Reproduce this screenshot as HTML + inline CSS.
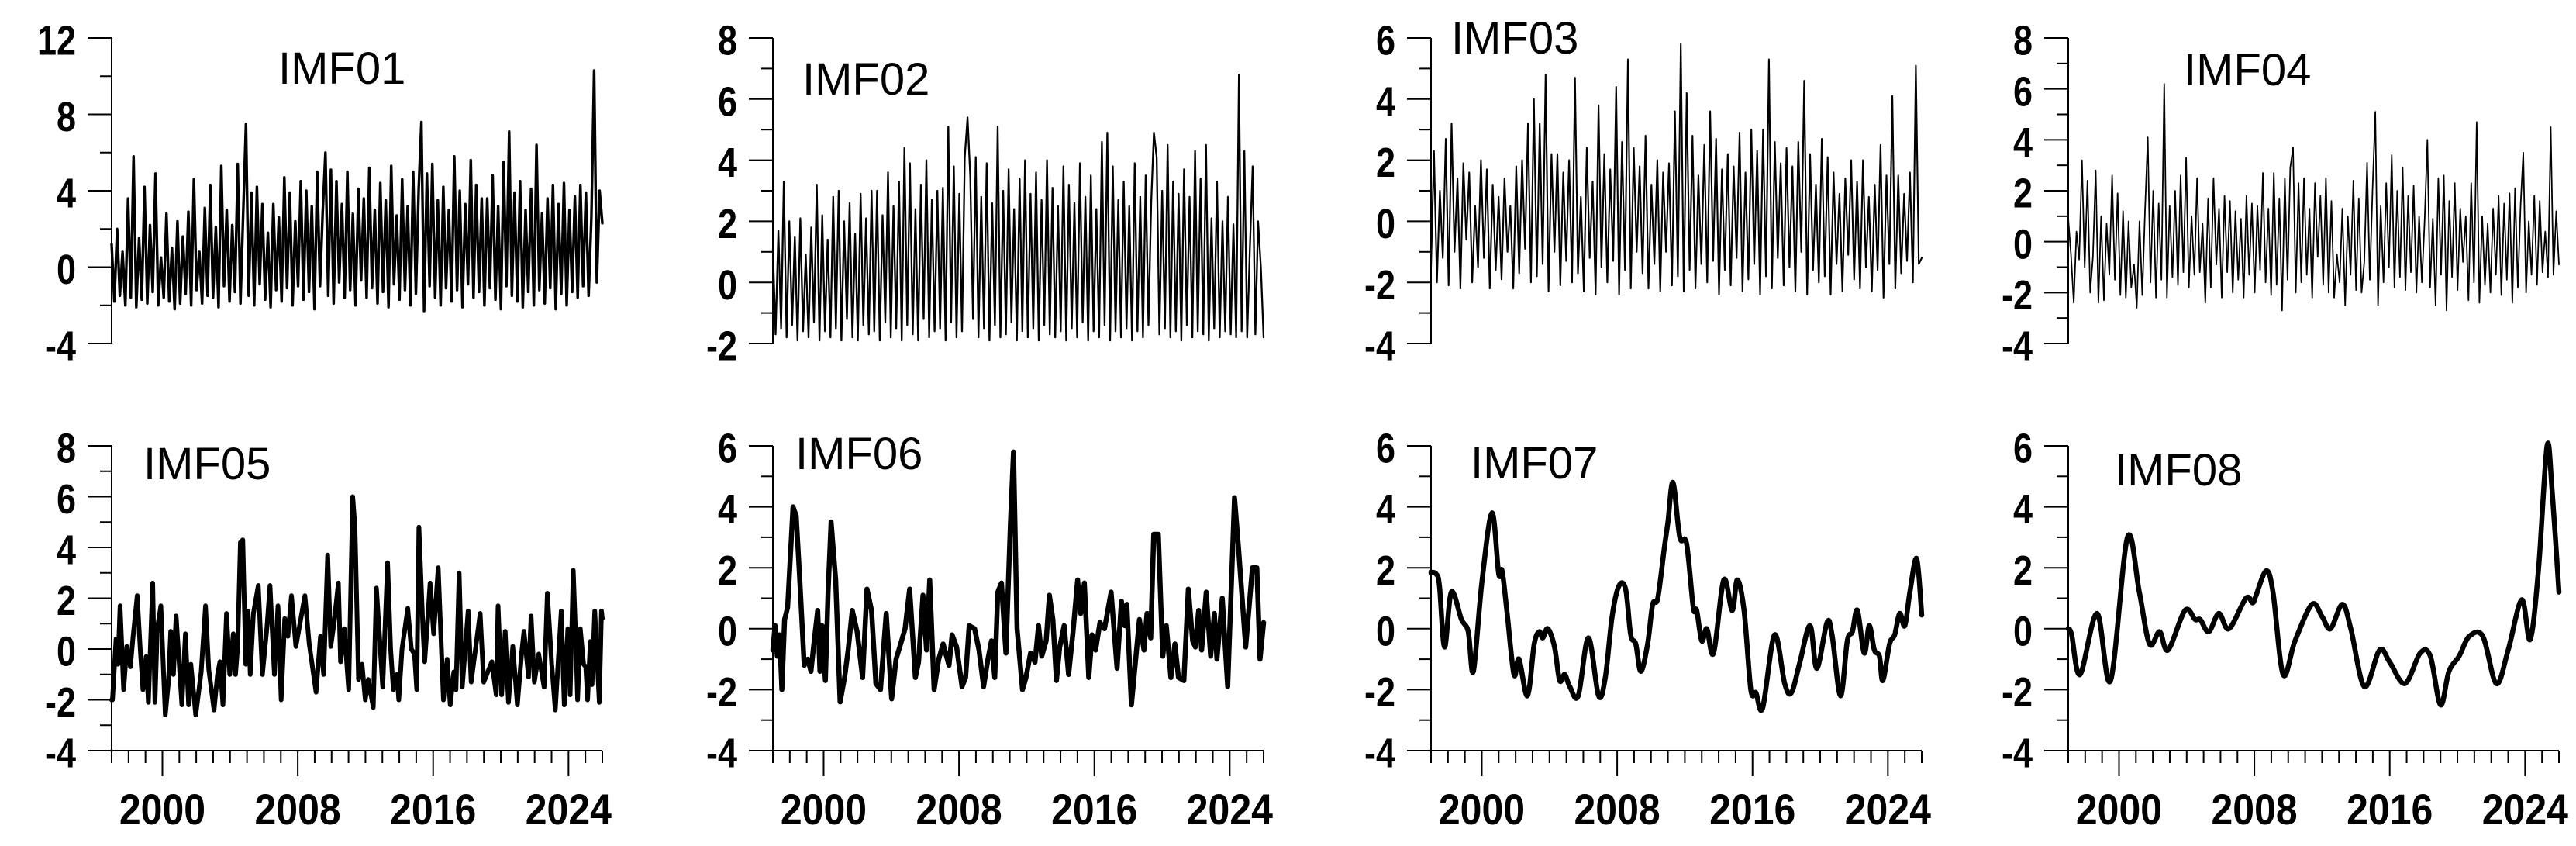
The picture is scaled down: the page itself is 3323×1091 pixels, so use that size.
<!DOCTYPE html>
<html><head><meta charset="utf-8"><style>
html,body{margin:0;padding:0;background:#fff;}
svg{display:block;}
</style></head><body>
<svg id="chart" width="3323" height="1091" xmlns="http://www.w3.org/2000/svg"></svg>
<script>
const imf01Values=[1.2,-1.8,2.0,-1.5,0.8,-2.0,3.6,-1.6,5.8,-2.1,1.5,-1.7,4.2,-1.9,2.2,-1.3,4.9,-2.0,0.5,-1.6,2.8,-1.8,1.0,-2.2,2.4,-1.9,1.6,-1.4,2.9,-2.0,4.6,-1.2,0.8,-1.9,3.1,-1.5,4.3,-1.6,2.1,-2.1,5.3,-1.0,3.0,-1.8,2.2,-1.3,5.4,-1.9,2.8,7.5,-1.5,3.9,-2.0,4.2,-0.9,3.3,-1.7,1.8,-2.1,3.3,-1.2,2.6,-1.8,4.7,-1.1,3.9,-2.0,2.4,-1.0,4.5,-1.7,4.0,-1.3,3.2,-2.2,5.0,-1.0,2.9,6.0,-1.5,5.1,-1.9,4.5,-0.8,3.3,-1.6,5.0,-1.2,2.8,-2.0,4.1,-0.7,3.6,-1.6,5.2,-1.1,3.0,-1.9,4.4,-1.3,3.5,-2.1,5.3,-0.9,2.7,-1.7,4.6,-1.2,3.2,-2.0,5.0,-1.4,4.1,7.6,-2.3,4.9,-1.0,5.4,-1.6,3.5,-2.0,4.2,-1.1,3.0,-1.8,5.8,-1.2,4.0,-2.1,3.3,-0.9,5.6,-1.6,4.3,-1.3,3.6,-2.0,3.6,-1.1,4.8,-1.7,3.2,-2.2,5.5,-1.0,7.1,-1.5,3.9,-1.8,4.5,-2.1,3.0,-1.3,4.1,-2.0,6.4,-1.2,2.8,-1.9,3.6,-1.1,4.3,-2.2,3.3,-1.4,4.4,-2.0,3.0,-1.3,3.7,-1.6,4.3,-1.0,3.9,-1.5,2.6,10.3,-0.8,4.0,2.3];
const imf02Values=[1.1,-1.7,1.7,-1.5,3.3,-1.8,2.0,-1.4,1.5,-1.9,2.1,-1.6,0.9,-1.8,1.8,-1.3,3.2,-1.9,2.2,-1.6,1.4,-1.8,2.8,-1.5,3.0,-1.9,2.0,-1.2,2.6,-1.8,1.6,-1.9,2.9,-1.4,2.1,-1.7,3.0,-1.6,3.0,-1.9,2.2,-1.3,3.6,-1.8,2.5,-1.5,3.3,-1.9,4.4,-1.4,3.9,-1.7,2.4,-1.9,3.2,-1.2,4.0,-1.8,2.7,-1.6,3.0,-1.5,3.1,-1.9,5.1,-1.3,3.8,-1.8,2.9,-1.6,4.1,5.4,3.5,-1.2,4.1,-1.8,2.8,-1.5,3.9,-1.9,2.6,-1.4,5.1,-1.8,3.0,-1.7,3.7,-1.3,2.4,-1.9,3.4,-1.6,4.0,-1.8,2.9,-1.5,3.6,-1.9,2.7,-1.4,4.0,-1.7,3.1,-1.8,2.5,-1.6,3.8,-1.9,3.2,-1.5,2.6,-1.8,3.9,-1.3,2.8,-1.9,3.5,-1.6,2.4,-1.8,4.6,-1.4,4.9,-1.9,3.8,-1.6,2.7,-1.8,3.3,-1.5,2.5,-1.9,3.9,-1.6,2.8,-1.8,3.5,-1.4,2.6,4.9,4.1,-1.7,3.0,-1.5,4.5,-1.8,3.3,-1.6,2.9,-1.9,3.7,-1.4,2.8,-1.8,4.3,-1.6,3.4,-1.7,4.5,-1.9,2.1,-1.5,3.3,-1.8,2.0,-1.6,2.8,-1.7,1.9,-1.8,6.8,-1.6,4.3,-1.8,1.1,3.8,-1.7,2.0,0.5,-1.8];
const imf03Values=[-1.5,2.3,-2.0,1.0,-1.2,2.7,-2.1,3.2,-1.0,1.4,-2.2,1.9,-0.6,1.6,-2.0,0.5,-1.5,2.0,-1.2,1.7,-2.2,1.2,-1.6,0.8,-1.9,1.4,-1.0,0.5,-2.2,1.8,-1.7,2.0,-0.9,3.2,-2.0,4.0,-1.8,3.2,-1.4,4.8,-2.3,2.2,-1.0,2.2,-2.1,1.6,-1.3,2.0,-2.0,4.7,-1.7,0.8,-2.3,2.4,-1.2,1.3,-2.4,3.8,-1.5,2.2,-2.0,1.7,-1.3,4.4,-2.4,2.6,-1.6,5.3,-2.2,2.4,-1.0,1.8,-1.7,2.8,-2.2,1.2,-1.4,2.0,-2.3,1.6,-1.0,1.9,-2.1,3.6,-1.8,5.8,-2.3,4.2,-1.6,2.8,-2.2,1.5,-1.4,2.5,-2.0,3.6,-1.3,2.7,-2.4,1.7,-1.6,2.2,-2.1,1.8,-1.2,2.9,-2.3,1.6,-1.9,3.0,-1.4,2.3,-2.4,3.0,-1.8,5.3,-2.2,2.6,-1.2,1.9,-2.1,2.4,-1.5,1.8,-2.3,2.6,-1.0,4.6,-2.4,2.2,-1.6,1.2,-2.0,2.7,-1.8,2.1,-2.4,1.6,-1.4,0.9,-2.3,1.4,-1.1,2.0,-1.9,1.3,-2.2,2.0,-1.5,0.8,-2.3,1.2,-1.6,2.5,-2.5,1.5,-1.4,4.1,-2.2,1.5,-1.7,0.9,-1.3,1.6,-2.0,5.1,-1.4,-1.2];
const imf04Values=[0.9,-0.5,-2.4,0.4,-0.7,3.2,-1.0,2.4,-2.0,-0.6,2.8,-2.4,1.0,-2.3,0.7,-1.3,2.6,-1.5,1.9,-2.1,1.2,-2.2,0.8,-1.8,-0.9,-2.6,0.8,-2.1,1.2,4.1,-1.6,2.0,-2.2,1.5,-1.5,6.2,-2.2,1.4,-1.4,2.0,-1.7,2.6,-1.2,3.3,-1.8,1.0,-1.3,2.5,-1.2,0.7,-2.4,1.7,-1.8,2.5,-0.9,1.3,-2.2,1.8,-1.2,1.6,-2.0,1.2,-1.5,0.9,-2.2,1.8,-1.3,1.5,-2.0,1.4,-1.1,2.7,-1.6,1.3,-2.1,2.7,-1.7,1.7,-2.7,2.5,-1.5,2.9,3.7,-2.0,2.3,-1.6,2.5,-1.3,1.3,-2.2,2.3,-0.6,1.8,-1.7,2.5,-2.0,1.6,-2.2,-0.5,-1.6,1.3,-2.5,1.0,-1.3,2.4,-1.9,1.7,-2.0,-0.8,3.1,-1.5,2.0,5.1,-2.5,1.4,-1.6,2.3,-1.0,3.4,-1.8,2.0,-1.4,2.9,-1.9,1.8,-1.2,2.2,-2.0,1.0,-1.6,0.8,4.0,-1.8,0.9,-2.5,2.5,-1.3,2.6,-2.7,1.6,-1.4,2.3,-1.9,1.3,-0.8,1.0,-2.3,2.3,-1.6,4.7,-2.4,1.0,-1.7,0.7,-2.0,1.3,-1.3,1.8,-2.1,1.5,-1.5,1.9,-2.4,2.1,-1.8,1.4,3.5,-2.0,0.8,-1.3,1.8,-1.7,1.6,-1.2,0.4,-1.4,4.5,-1.3,1.2,-0.9];
const imf05Years=[1997.0,1997.05,1997.26,1997.37,1997.50,1997.71,1997.90,1998.11,1998.27,1998.51,1998.69,1998.85,1999.04,1999.17,1999.43,1999.56,1999.70,1999.91,2000.17,2000.36,2000.49,2000.65,2000.81,2001.15,2001.36,2001.55,2001.68,2001.97,2002.29,2002.55,2002.74,2003.05,2003.26,2003.40,2003.58,2003.79,2003.98,2004.19,2004.32,2004.45,2004.61,2004.75,2004.93,2005.06,2005.19,2005.38,2005.67,2005.91,2006.17,2006.36,2006.62,2006.83,2007.02,2007.23,2007.42,2007.63,2007.89,2008.42,2008.68,2009.08,2009.34,2009.53,2009.77,2009.95,2010.14,2010.40,2010.53,2010.75,2011.01,2011.25,2011.38,2011.59,2011.80,2011.99,2012.17,2012.46,2012.65,2013.02,2013.31,2013.49,2013.65,2013.86,2013.97,2014.16,2014.50,2014.71,2014.90,2015.03,2015.16,2015.40,2015.50,2015.69,2015.82,2016.03,2016.30,2016.61,2016.83,2017.01,2017.22,2017.35,2017.54,2017.72,2018.07,2018.25,2018.78,2018.99,2019.47,2019.73,2019.84,2020.05,2020.26,2020.45,2020.71,2020.98,2021.24,2021.37,2021.64,2021.79,2021.98,2022.24,2022.56,2022.75,2023.01,2023.22,2023.57,2023.75,2023.96,2024.10,2024.28,2024.46,2024.54,2024.70,2024.89,2025.02,2025.13,2025.29,2025.39,2025.55,2025.82,2025.95,2026.0];
const imf05Values=[-2.0,-2.0,0.4,-0.6,1.7,-1.6,0.1,-0.7,0.5,2.1,0,-1.6,-0.3,-2.1,2.6,-2.1,0.8,1.7,-2.6,-1.3,0.7,-1.0,1.3,-2.2,0.6,-2.2,-0.6,-2.6,-0.9,1.7,-0.8,-2.4,-1.0,-0.5,-2.2,1.4,-1.0,0.6,-1.0,0.1,4.2,4.3,-0.6,1.5,-1.0,1.4,2.5,-1.0,0.8,2.5,-1.0,1.7,-2.0,1.2,0.5,2.1,0.1,2.1,0.2,-1.7,0.5,-1.0,3.7,0.1,1.0,2.6,-0.5,0.8,-1.6,6.0,4.8,-1.2,-0.6,-2.0,-1.2,-2.3,2.4,-1.5,3.4,0,-1.6,-1.0,-2.0,0.0,1.6,0,-0.2,-1.6,4.8,0.8,-0.5,1.3,2.6,0.6,3.2,-2.0,-0.4,-2.2,-0.9,-1.6,3.0,-1.5,1.5,-1.3,1.4,-1.3,-0.5,-1.8,1.7,-1.8,0.7,-2.1,0.1,-2.2,-0.1,0.7,-1.1,1.3,-1.3,-0.2,-1.5,2.2,-0.6,-2.4,1.5,-2.2,0.8,-1.8,3.1,-0.2,-2.0,0.8,-0.6,-0.7,-2.0,0.3,-1.4,1.5,-2.1,1.5,1.2];
const imf06Years=[1997.00,1997.13,1997.26,1997.40,1997.53,1997.69,1997.87,1998.19,1998.38,1998.59,1998.85,1999.07,1999.25,1999.44,1999.65,1999.78,1999.91,2000.10,2000.26,2000.44,2000.71,2000.97,2001.24,2001.45,2001.69,2001.98,2002.30,2002.56,2002.83,2003.09,2003.36,2003.70,2004.02,2004.28,2004.55,2004.81,2005.08,2005.42,2005.61,2005.87,2006.08,2006.27,2006.53,2006.80,2007.06,2007.41,2007.59,2007.86,2008.18,2008.39,2008.60,2008.92,2009.18,2009.45,2009.71,2009.92,2010.11,2010.29,2010.51,2010.77,2011.04,2011.22,2011.43,2011.75,2011.96,2012.23,2012.49,2012.70,2012.89,2013.15,2013.34,2013.55,2013.76,2013.95,2014.21,2014.48,2014.74,2015.01,2015.19,2015.41,2015.67,2015.86,2016.07,2016.33,2016.60,2016.99,2017.34,2017.60,2017.79,2017.92,2018.19,2018.66,2018.93,2019.11,2019.33,2019.51,2019.78,2020.04,2020.25,2020.52,2020.76,2020.97,2021.29,2021.55,2021.81,2021.97,2022.16,2022.34,2022.61,2022.87,2023.09,2023.24,2023.56,2023.88,2024.28,2024.54,2024.94,2025.34,2025.60,2025.79,2026.00];
const imf06Values=[-0.7,0.1,-0.9,-0.2,-2.0,0.3,0.7,4.0,3.7,1.6,-1.2,-1.0,-1.4,-0.4,0.6,-1.4,0.1,-1.7,1.2,3.5,1.6,-2.4,-1.6,-0.7,0.6,-0.1,-1.6,1.3,0.6,-1.8,-2.0,0.5,-2.3,-1.0,-0.5,0,1.3,-1.6,-1.1,1.1,-0.7,1.6,-2.0,-1.0,-0.5,-1.2,-0.2,-0.6,-1.9,-1.6,0.1,0,-0.7,-1.9,-1.0,-0.4,-1.6,1.2,1.5,-0.8,3.5,5.8,0,-2.0,-1.6,-0.8,-1.1,0.1,-0.9,-0.4,1.1,0.3,-1.7,-0.6,0.1,-1.5,-0.1,1.6,0.5,1.5,-1.6,-0.2,-0.7,0.2,0,1.2,-1.3,0.9,0.1,0.8,-2.5,0.3,-0.7,0.5,-0.3,3.1,3.1,-0.9,0.1,-1.6,-0.5,-1.6,-1.7,1.3,-0.4,-0.6,0.6,-0.7,1.2,-0.9,0.5,-1.0,1.0,-1.9,4.3,2.5,-0.6,2.0,2.0,-1.0,0.2];
const imf07Years=[1997.0,1997.3,1997.5,1997.8,1998.2,1998.8,1999.2,1999.5,2000.0,2000.6,2001.0,2001.2,2001.5,2001.9,2002.2,2002.7,2003.1,2003.4,2003.6,2003.9,2004.3,2004.6,2004.9,2005.2,2005.7,2006.3,2006.9,2007.3,2007.7,2008.1,2008.5,2008.8,2009.1,2009.4,2009.8,2010.1,2010.4,2010.8,2011.0,2011.3,2011.7,2012.1,2012.5,2012.7,2013.0,2013.3,2013.7,2014.3,2014.8,2015.1,2015.5,2015.9,2016.2,2016.6,2017.3,2017.9,2018.3,2018.8,2019.4,2019.8,2020.4,2020.7,2021.2,2021.6,2021.9,2022.2,2022.6,2022.9,2023.2,2023.5,2023.7,2024.1,2024.4,2024.7,2025.0,2025.3,2025.7,2026.0];
const imf07Values=[1.85,1.8,1.4,-0.6,1.2,0.3,-0.1,-1.4,1.5,3.8,1.8,1.9,0.5,-1.5,-1.0,-2.2,-0.5,-0.1,-0.3,0,-0.6,-1.7,-1.5,-1.9,-2.2,-0.3,-2.2,-1.6,0.4,1.4,1.3,-0.2,-0.5,-1.4,-0.5,0.8,1.0,2.7,3.5,4.8,3.0,2.8,0.7,0.6,-0.4,0,-0.8,1.6,0.6,1.6,0.6,-2.0,-2.1,-2.6,-0.2,-1.8,-2.1,-1.1,0.1,-1.3,0.2,-0.2,-2.2,-0.4,-0.1,0.6,-0.8,0.1,-0.7,-0.9,-1.7,-0.5,-0.2,0.5,0.1,1.2,2.3,0.45];
const imf08Years=[1997.0,1997.2,1997.7,1998.7,1999.5,2000.5,2001.2,2001.8,2002.4,2002.9,2003.9,2004.5,2004.8,2005.3,2005.9,2006.5,2007.5,2007.9,2008.1,2008.7,2009.1,2009.7,2010.4,2011.4,2012.0,2012.5,2013.2,2013.7,2014.5,2015.4,2016.0,2016.9,2017.8,2018.4,2019.0,2019.5,2020.1,2020.7,2021.5,2022.3,2023.0,2023.8,2024.3,2024.8,2025.3,2025.6,2026.0];
const imf08Values=[0,-0.2,-1.5,0.5,-1.7,3.0,1.2,-0.5,-0.1,-0.7,0.6,0.3,0.3,-0.1,0.5,0.0,1.0,0.85,1.1,1.9,1.2,-1.5,-0.4,0.8,0.4,0,0.8,0,-1.9,-0.7,-1.1,-1.8,-0.8,-0.9,-2.5,-1.4,-0.9,-0.25,-0.25,-1.8,-0.7,0.95,-0.35,2.0,6.0,4.5,1.2];
const panelTitles=["IMF01","IMF02","IMF03","IMF04","IMF05","IMF06","IMF07","IMF08"];
const yMins=[-4,-2,-4,-4,-4,-4,-4,-4];
const yMaxs=[12,8,6,8,8,6,6,6];
const yLabelSteps=[4,2,2,2,2,2,2,2];
const yearLabels=[2000,2008,2016,2024];
const X0=1997, X1=2026;

const svg=document.getElementById('chart');
const NS='http://www.w3.org/2000/svg';
function mk(tag,attrs,parent){const e=document.createElementNS(NS,tag);for(const k in attrs)e.setAttribute(k,attrs[k]);(parent||svg).appendChild(e);return e;}
const lefts=[144,997,1846,2668], W=633;
const rows=[[49,443],[575,968]];
const titlePos=[[359,108],[1035,122],[1872,69],[2817,110],[185,618],[1026,605],[1897,617],[2728,626]];
const evenYears=n=>Array.from({length:n},(_,i)=>X0+(X1-X0)*i/(n-1));
const series=[
 [evenYears(imf01Values.length),imf01Values,3.4],
 [evenYears(imf02Values.length),imf02Values,2.3],
 [evenYears(imf03Values.length),imf03Values,2.1],
 [evenYears(imf04Values.length),imf04Values,1.8],
 [imf05Years,imf05Values,6],
 [imf06Years,imf06Values,6.5],
 [imf07Years,imf07Values,6.5],
 [imf08Years,imf08Values,6.5]];
for(let p=0;p<8;p++){
 const L=lefts[p%4], R=L+W, [T,B]=rows[Math.floor(p/4)];
 const xs=v=>L+(v-X0)/(X1-X0)*W;
 const ys=v=>B-(v-yMins[p])/(yMaxs[p]-yMins[p])*(B-T);
 const g=mk('g',{});
 
 
 const ax=mk('line',{x1:L,y1:T,x2:L,y2:B,stroke:'#000','stroke-width':2},g);
 
 
 const half=yLabelSteps[p]/2;
 for(let v=yMins[p];v<=yMaxs[p]+1e-9;v+=half){
  const major=Math.abs((v-yMins[p])%yLabelSteps[p])<1e-9;
  const t=mk('line',{x1:L-(major?31:15),y1:ys(v),x2:L,y2:ys(v),stroke:'#000','stroke-width':2},g);
  
  
  if(major){
   const ty=ys(v);
   const tx=mk('text',{x:L-46,y:ty+18,'text-anchor':'end','font-family':'Liberation Sans, Arial, sans-serif','font-weight':'bold','font-size':45,transform:`translate(0 ${ty}) scale(1 1.2) translate(0 ${-ty})`},g);
   tx.textContent=String(v);
   
   
  }
 }
 if(p>=4){
  const xa=mk('line',{x1:L,y1:B,x2:R,y2:B,stroke:'#000','stroke-width':2},g);
  
  
  for(let yr=X0;yr<=X1;yr++){
   const major=yearLabels.includes(yr);
   const t=mk('line',{x1:xs(yr),y1:B,x2:xs(yr),y2:B+(major?33:16),stroke:'#000','stroke-width':2},g);
   
   
  }
  yearLabels.forEach(yr=>{
   const tx=mk('text',{x:xs(yr),y:1063,'text-anchor':'middle','font-family':'Liberation Sans, Arial, sans-serif','font-weight':'bold','font-size':50,transform:'translate(0 1063) scale(1 1.12) translate(0 -1063)'},g);
   tx.textContent=String(yr);
   
   
  });
 }
 const [yrs,vals,sw]=series[p];
 const pts=yrs.map((y,i)=>[xs(y),ys(vals[i])]);
 let d;
 if(p>=6){
  d='M'+pts[0][0].toFixed(1)+','+pts[0][1].toFixed(1);
  for(let i=0;i<pts.length-1;i++){
   const p0=pts[Math.max(0,i-1)],p1=pts[i],p2=pts[i+1],p3=pts[Math.min(pts.length-1,i+2)];
   const c1=[p1[0]+(p2[0]-p0[0])/6,p1[1]+(p2[1]-p0[1])/6];
   const c2=[p2[0]-(p3[0]-p1[0])/6,p2[1]-(p3[1]-p1[1])/6];
   d+=`C${c1[0].toFixed(1)},${c1[1].toFixed(1)} ${c2[0].toFixed(1)},${c2[1].toFixed(1)} ${p2[0].toFixed(1)},${p2[1].toFixed(1)}`;
  }
 } else d='M'+pts.map(q=>q[0].toFixed(1)+','+q[1].toFixed(1)).join('L');
 const path=mk('path',{d:d,fill:'none',stroke:'#000','stroke-width':sw,'stroke-linejoin':'round','stroke-linecap':'round'},g);
 
 
 const tt=mk('text',{x:titlePos[p][0],y:titlePos[p][1],'font-family':'Liberation Sans, Arial, sans-serif','font-size':58},g);
 tt.textContent=panelTitles[p];
 
 
}
</script>
</body></html>
